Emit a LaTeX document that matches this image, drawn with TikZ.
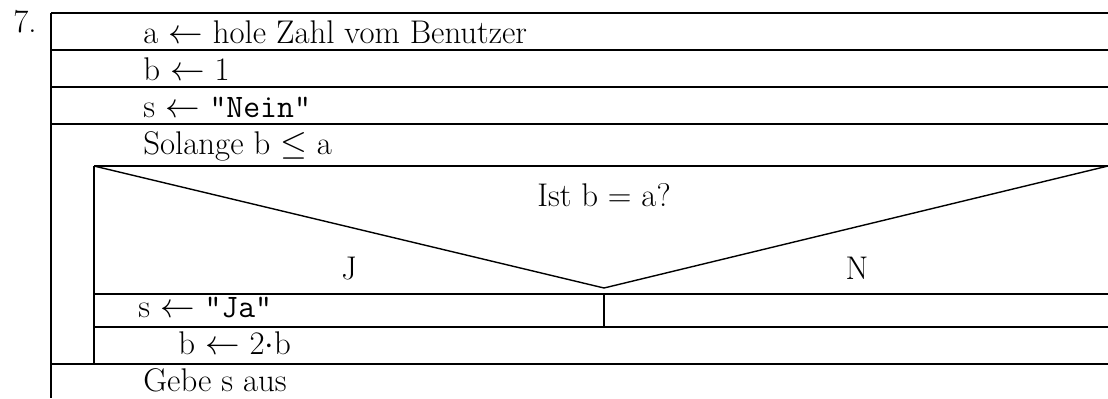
\documentclass[tikz,border=0pt]{standalone}
\tikzset{
    frame_line/.style={draw=black, line width=0.7pt},
    base_text/.style={inner sep=0pt, font=\fontsize{16.4}{19}\selectfont},
    row_text/.style={base_text, anchor=base west},
    mid_text/.style={base_text, anchor=base}
}

\begin{document}
\begin{tikzpicture}[x=0.5pt, y=-0.5pt]
\useasboundingbox (0,0) rectangle (1108,398);

\coordinate (out_nw)  at (51, 13);
\coordinate (out_sw)  at (51, 398);
\coordinate (in_nw)   at (94, 166);
\coordinate (in_ne)   at (1108, 166);
\coordinate (in_sw)   at (94, 364);
\coordinate (cut)     at (604, 288);
\coordinate (branch_w) at (94, 294);
\coordinate (branch_e) at (1108, 294);
\coordinate (split_n) at (604, 294);
\coordinate (split_s) at (604, 327);
\coordinate (then_w)  at (94, 327);
\coordinate (then_e)  at (1108, 327);

\node[row_text] (num) at (13, 32) {7.};

\draw[frame_line] (out_nw) -- (out_sw);
\foreach \y in {13,50,87,124,364} {
    \draw[frame_line] (51,\y) -- (1108,\y);
}

\draw[frame_line] (in_nw) -- (in_ne);
\draw[frame_line] (in_nw) -- (in_sw);
\draw[frame_line] (in_nw) -- (cut) -- (in_ne);
\draw[frame_line] (branch_w) -- (branch_e);
\draw[frame_line] (split_n) -- (split_s);
\draw[frame_line] (then_w) -- (then_e);

\node[row_text] (read_a)  at (143, 43)  {a $\leftarrow$ hole Zahl vom Benutzer};
\node[row_text] (set_b)   at (143, 80)  {b $\leftarrow$ 1};
\node[row_text] (set_s)   at (143, 117) {s $\leftarrow$ {\ttfamily"Nein"}};
\node[row_text] (loop)    at (143, 154) {Solange b $\le$ a};
\node[mid_text] (cond)    at (604, 206) {Ist b = a?};
\node[mid_text] (yes)     at (349, 279) {J};
\node[mid_text] (no)      at (857, 279) {N};
\node[row_text] (set_ja)  at (138, 317) {s $\leftarrow$ {\ttfamily"Ja"}};
\node[row_text] (double)  at (178, 354) {b $\leftarrow$ 2$\cdot$b};
\node[row_text] (output)  at (143, 391) {Gebe s aus};

\end{tikzpicture}
\end{document}
